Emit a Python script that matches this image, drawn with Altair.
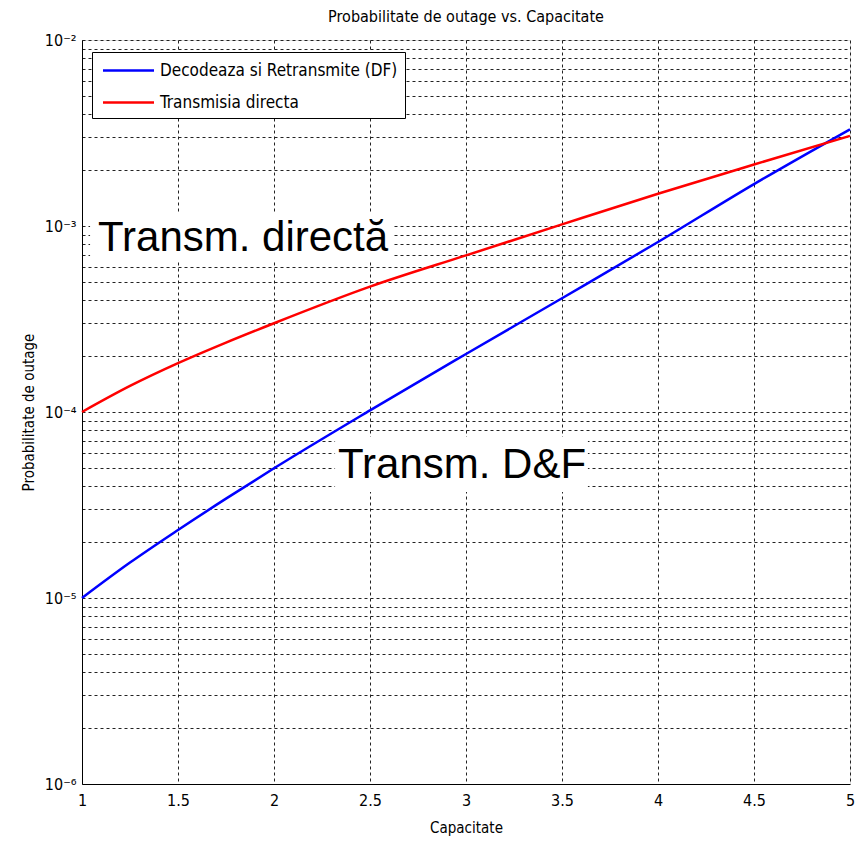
import altair as alt
import pandas as pd

# ---- data ----
capacitate = [1, 1.25, 1.5, 1.75, 2, 2.5, 3, 3.5, 4, 4.5, 5]
df_values = [1.0e-5, 1.55e-5, 2.32e-5, 3.42e-5, 4.98e-5, 1.02e-4, 2.05e-4, 4.09e-4, 8.2e-4, 1.68e-3, 3.31e-3]
direct_values = [1.0e-4, 1.38e-4, 1.83e-4, 2.36e-4, 3.0e-4, 4.72e-4, 6.95e-4, 1.02e-3, 1.49e-3, 2.14e-3, 3.05e-3]
series_names = ["Decodeaza si Retransmite (DF)", "Transmisia directa"]
series_colors = ["#0000FF", "#FF0000"]

x_ticks = [1, 1.5, 2, 2.5, 3, 3.5, 4, 4.5, 5]
y_grid = [m * 10.0 ** e for e in range(-6, -2) for m in range(1, 10)] + [1e-2]

ann_text = ["Transm. directă", "Transm. D&F"]
ann_x = [1.083, 2.333]
ann_y = [8.6e-4, 5.19e-5]
box_x = [1.042, 2.318]
box_x2 = [2.62, 3.635]
box_y = [1.19e-3, 7.35e-5]
box_y2 = [6.4e-4, 3.72e-5]

NARROW = "Liberation Sans Narrow, DejaVu Sans Condensed, Arial Narrow, sans-serif"

rows = []
for name, vals in zip(series_names, [df_values, direct_values]):
    for xv, yv in zip(capacitate, vals):
        rows.append({"x": xv, "y": yv, "series": name})
lines_df = pd.DataFrame(rows)
ann_df = pd.DataFrame({"text": ann_text, "x": ann_x, "y": ann_y})
box_df = pd.DataFrame({"x": box_x, "x2": box_x2, "y": box_y, "y2": box_y2})

x_scale = alt.Scale(domain=[1, 5], nice=False, zero=False)
y_scale = alt.Scale(type="log", domain=[1e-6, 1e-2], nice=False)

exp = "round(log(datum.value)/LN10)"
sup = (f"({exp}==-2?'⁻²':{exp}==-3?'⁻³':{exp}==-4?'⁻⁴':{exp}==-5?'⁻⁵':'⁻⁶')")
label_expr = f"abs(log(datum.value)/LN10 - {exp}) < 0.001 ? '10' + {sup} : ''"

x_axis = alt.Axis(
    values=x_ticks, format="~g", title="Capacitate", grid=True,
    gridDash=[3, 3], gridColor="#222222", gridOpacity=1, gridWidth=1,
    ticks=False, labelFont=NARROW, labelFontSize=16, labelColor="black",
    labelPadding=8, titleFont=NARROW, titleFontSize=15, titleFontWeight="normal",
    titleColor="black", titlePadding=12, domainColor="black", labelFlush=False,
)
y_axis = alt.Axis(
    values=y_grid, labelExpr=label_expr, title="Probabilitate de outage", grid=True,
    gridDash=[3, 3], gridColor="#222222", gridOpacity=1, gridWidth=1,
    ticks=False, labelFont=NARROW, labelFontSize=16, labelColor="black",
    labelPadding=6, titleFont=NARROW, titleFontSize=15, titleFontWeight="normal",
    titleColor="black", titlePadding=8, domainColor="black", labelFlush=False,
    labelOverlap=False,
)

boxes = alt.Chart(box_df).mark_rect(color="white", opacity=1).encode(
    x=alt.X("x:Q", scale=x_scale, axis=x_axis),
    x2="x2:Q",
    y=alt.Y("y:Q", scale=y_scale, axis=y_axis),
    y2="y2:Q",
)

lines = alt.Chart(lines_df).mark_line(strokeWidth=2.5, interpolate="monotone").encode(
    x=alt.X("x:Q", scale=x_scale, axis=x_axis),
    y=alt.Y("y:Q", scale=y_scale, axis=y_axis),
    color=alt.Color(
        "series:N",
        scale=alt.Scale(domain=series_names, range=series_colors),
        sort=series_names,
        legend=alt.Legend(
            title=None, orient="none", legendX=10, legendY=12,
            strokeColor="black", fillColor="white", padding=7,
            symbolType="M-2.55,0H2.55", symbolSize=400, symbolStrokeWidth=2.5,
            symbolOffset=18, labelOffset=20,
            labelFont=NARROW, labelFontSize=17, labelColor="black",
            labelLimit=500, rowPadding=12,
        ),
    ),
)

texts = alt.Chart(ann_df).mark_text(
    align="left", baseline="middle", font="Liberation Sans", fontSize=42, color="black"
).encode(
    x=alt.X("x:Q", scale=x_scale, axis=x_axis),
    y=alt.Y("y:Q", scale=y_scale, axis=y_axis),
    text="text:N",
)

chart = alt.layer(boxes, lines, texts).properties(
    width=768, height=744,
    autosize=alt.AutoSizeParams(type="none"),
    padding={"left": 74, "top": 32, "right": 6, "bottom": 58},
    title=alt.TitleParams(
        "Probabilitate de outage vs. Capacitate", font=NARROW, fontSize=16,
        fontWeight="normal", color="black", offset=7,
    ),
).configure_view(stroke="black", strokeWidth=1).configure(background="white")

chart.save("out.html", embed_options={"renderer": "svg", "actions": False})
